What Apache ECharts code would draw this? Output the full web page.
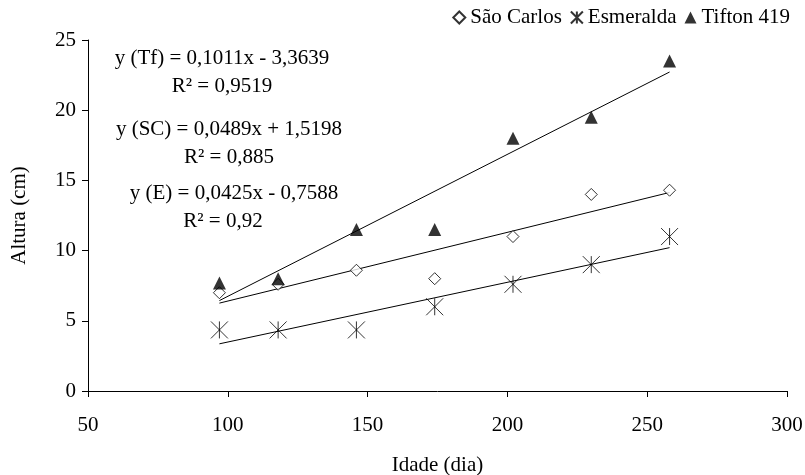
<!DOCTYPE html>
<html>
<head>
<meta charset="utf-8">
<script src="https://cdn.jsdelivr.net/npm/echarts@6/dist/echarts.min.js"></script>
<style>
html,body{margin:0;padding:0;background:#fff;}
#chart{width:805px;height:475px;}
</style>
</head>
<body>
<div id="chart"></div>
<script>
// Data
var idade = [97, 118, 146, 174, 202, 230, 258];
var saoCarlos = [7.0, 7.6, 8.6, 8.0, 11.0, 14.0, 14.3];
var esmeralda = [4.35, 4.35, 4.35, 6.0, 7.6, 9.0, 11.0];
var tifton = [7.7, 8.0, 11.5, 11.5, 18.0, 19.5, 23.5];
// Trend line end points (x, y) for each regression
var trendX = [97, 258];
var trendTf = [6.44, 22.72];
var trendSC = [6.26, 14.14];
var trendE = [3.36, 10.21];
var seriesNames = ['São Carlos', 'Esmeralda', 'Tifton 419'];
var equations = [
  'y (Tf) = 0,1011x - 3,3639', 'R² = 0,9519',
  'y (SC) = 0,0489x + 1,5198', 'R² = 0,885',
  'y (E) = 0,0425x - 0,7588', 'R² = 0,92'
];
var xTicks = [50, 300, 50];
var yTicks = [0, 25, 5];

function pairs(xs, ys) { return xs.map(function (x, i) { return [x, ys[i]]; }); }

var FONT = 'Liberation Serif';
var FS = 21;
var asterisk = 'path://M0 0L16 16M16 0L0 16M8 0L8 16';

var chart = echarts.init(document.getElementById('chart'), null, {renderer: 'canvas'});

function trend(ys) {
  return {
    type: 'line', data: pairs(trendX, ys), symbol: 'none', silent: true,
    lineStyle: {color: '#000', width: 1}, z: 1
  };
}

var eqPos = [[222, 58], [222, 86], [229, 129], [229, 157], [234, 193], [223, 221]];
var graphics = equations.map(function (t, i) {
  return {
    type: 'text', x: eqPos[i][0], y: eqPos[i][1],
    style: {text: t, font: FS + 'px "' + FONT + '"', fill: '#000', textAlign: 'center', textVerticalAlign: 'middle'}
  };
});

chart.setOption({
  animation: false,
  backgroundColor: '#fff',
  textStyle: {fontFamily: FONT, color: '#000'},
  grid: {left: 88, right: 18, top: 40, bottom: 84, containLabel: false, outerBoundsMode: 'none'},
  legend: {
    data: seriesNames, top: 2, right: 10, itemWidth: 12, itemHeight: 12, itemGap: 8,
    textStyle: {fontFamily: FONT, fontSize: FS, color: '#000'}
  },
  xAxis: {
    type: 'value', min: xTicks[0], max: xTicks[1], interval: xTicks[2],
    name: 'Idade (dia)', nameLocation: 'middle', nameGap: 64,
    nameTextStyle: {fontFamily: FONT, fontSize: FS, color: '#000'},
    axisLine: {lineStyle: {color: '#000', width: 1}},
    axisTick: {length: 6, lineStyle: {color: '#000'}},
    axisLabel: {fontFamily: FONT, fontSize: FS, color: '#000', margin: 24},
    splitLine: {show: false}
  },
  yAxis: {
    type: 'value', min: yTicks[0], max: yTicks[1], interval: yTicks[2],
    name: 'Altura (cm)', nameLocation: 'middle', nameGap: 58, nameRotate: 90,
    nameTextStyle: {fontFamily: FONT, fontSize: FS, color: '#000'},
    axisLine: {show: true, lineStyle: {color: '#000', width: 1}},
    axisTick: {show: true, length: 6, lineStyle: {color: '#000'}},
    axisLabel: {fontFamily: FONT, fontSize: FS, color: '#000', margin: 12},
    splitLine: {show: false}
  },
  graphic: graphics,
  series: [
    {
      name: seriesNames[0], type: 'scatter', data: pairs(idade, saoCarlos),
      symbol: 'diamond', symbolSize: 12,
      itemStyle: {color: '#fff', borderColor: '#000', borderWidth: 1}, z: 3
    },
    {
      name: seriesNames[1], type: 'scatter', data: pairs(idade, esmeralda),
      symbol: asterisk, symbolSize: 17,
      itemStyle: {color: 'rgba(0,0,0,0)', borderColor: '#000', borderWidth: 1}, z: 3
    },
    {
      name: seriesNames[2], type: 'scatter', data: pairs(idade, tifton),
      symbol: 'triangle', symbolSize: 13,
      itemStyle: {color: '#000', borderColor: '#000', borderWidth: 0}, z: 3
    },
    trend(trendTf), trend(trendSC), trend(trendE)
  ]
});
</script>
</body>
</html>
